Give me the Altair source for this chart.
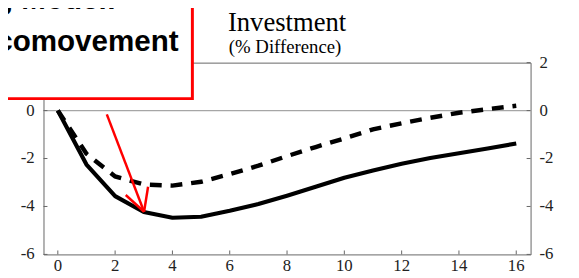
import altair as alt
import pandas as pd

# ---- data ----
quarters = list(range(17))
solid_vals = [0, -2.25, -3.57, -4.23, -4.47, -4.43, -4.18, -3.90, -3.55, -3.18,
              -2.80, -2.50, -2.22, -1.98, -1.78, -1.58, -1.37]
dashed_vals = [0, -1.80, -2.75, -3.08, -3.13, -2.97, -2.65, -2.30, -1.90, -1.52,
               -1.16, -0.78, -0.53, -0.30, -0.09, 0.06, 0.20]
x_tick_vals = [0, 2, 4, 6, 8, 10, 12, 14, 16]
x_tick_labels = ["0", "2", "4", "6", "8", "10", "12", "14", "16"]
y_tick_vals = [-6, -4, -2, 0, 2]
y_tick_labels = ["-6", "-4", "-2", "0", "2"]

# red arrow (shaft + two head strokes), in data units
arrow_x = [1.71, 3.01, 3.01]
arrow_y = [-0.16, -4.22, -4.22]
arrow_x2 = [3.01, 2.37, 3.15]
arrow_y2 = [-4.22, -3.52, -3.18]

title_text = "Investment"
subtitle_text = "(% Difference)"
box_line1 = "g Model:"
box_line2 = "comovement"

W, H = 494, 194.5
SERIF = "'Liberation Serif', 'Times New Roman', Times, serif"
SANS = "'Liberation Sans', Arial, Helvetica, sans-serif"

lines_df = pd.DataFrame({
    "t": quarters * 2,
    "v": solid_vals + dashed_vals,
    "s": ["solid"] * len(quarters) + ["dashed"] * len(quarters),
})
arrow_df = pd.DataFrame({"x": arrow_x, "y": arrow_y, "x2": arrow_x2, "y2": arrow_y2})
xt_df = pd.DataFrame({"t": x_tick_vals, "lab": x_tick_labels})
yt_df = pd.DataFrame({"v": y_tick_vals, "lab": y_tick_labels})
yt_left_df = yt_df[yt_df["v"] < 2]

xs = alt.Scale(domain=[-0.5, 16.5], nice=False, zero=False)
ys = alt.Scale(domain=[-6, 2], nice=False, zero=False)

X = lambda f: alt.X(f, scale=xs, axis=None)
Y = lambda f: alt.Y(f, scale=ys, axis=None)

zero_rule = alt.Chart(pd.DataFrame({"v": [0]})).mark_rule(
    color="#a6a6a6", strokeWidth=1.3
).encode(y=Y("v:Q"))

solid = alt.Chart(lines_df).transform_filter(alt.datum.s == "solid").mark_line(
    color="black", strokeWidth=4.2, strokeJoin="round"
).encode(x=X("t:Q"), y=Y("v:Q"))

dashed = alt.Chart(lines_df).transform_filter(alt.datum.s == "dashed").mark_line(
    color="black", strokeWidth=4.5, strokeDash=[12, 9]
).encode(x=X("t:Q"), y=Y("v:Q"))

xticks = alt.Chart(xt_df).mark_rule(color="#666", strokeWidth=1).encode(
    x=X("t:Q"), y=alt.value(H), y2=alt.value(H - 4),
)
lticks = alt.Chart(yt_df).mark_rule(color="#666", strokeWidth=1).encode(
    y=Y("v:Q"), x=alt.value(0), x2=alt.value(4),
)
rticks = alt.Chart(yt_df).mark_rule(color="#666", strokeWidth=1).encode(
    y=Y("v:Q"), x=alt.value(W), x2=alt.value(W - 4),
)

label_style = dict(font=SERIF, fontSize=17, color="#222")
xlabels = alt.Chart(xt_df).mark_text(align="center", baseline="top", **label_style).encode(
    x=X("t:Q"), y=alt.value(H + 3.5), text="lab:N",
)
llabels = alt.Chart(yt_left_df).mark_text(align="right", baseline="middle", **label_style).encode(
    y=Y("v:Q"), x=alt.value(-9), text="lab:N",
)
rlabels = alt.Chart(yt_df).mark_text(align="left", baseline="middle", **label_style).encode(
    y=Y("v:Q"), x=alt.value(W + 9), text="lab:N",
)

arrow = alt.Chart(arrow_df).mark_rule(color="#ff0000", strokeWidth=2.5).encode(
    x=X("x:Q"), x2="x2:Q", y=Y("y:Q"), y2="y2:Q",
)

box = alt.Chart(pd.DataFrame({"a": [0]})).mark_rect(
    fill="white", stroke="#ff0000", strokeWidth=3
).encode(x=alt.value(-60), x2=alt.value(151), y=alt.value(-80), y2=alt.value(36.5))

box_style = dict(font=SANS, fontSize=30, fontWeight="bold", align="right",
                 baseline="alphabetic", color="black")
box_t1 = alt.Chart(pd.DataFrame({"a": [box_line1]})).mark_text(**box_style).encode(
    text="a:N", x=alt.value(74), y=alt.value(-54.2))
box_t2 = alt.Chart(pd.DataFrame({"a": [box_line2]})).mark_text(**box_style).encode(
    text="a:N", x=alt.value(137), y=alt.value(-12.2))

title = alt.Chart(pd.DataFrame({"a": [title_text]})).mark_text(
    font=SERIF, fontSize=27, align="center", baseline="alphabetic", color="black"
).encode(text="a:N", x=alt.value(247), y=alt.value(-32.3))

subtitle = alt.Chart(pd.DataFrame({"a": [subtitle_text]})).mark_text(
    font=SERIF, fontSize=19, align="center", baseline="alphabetic", color="black"
).encode(text="a:N", x=alt.value(245), y=alt.value(-9.8))

chart = alt.layer(
    zero_rule, xticks, lticks, rticks, xlabels, llabels, rlabels,
    solid, dashed, arrow, box, box_t1, box_t2, title, subtitle
).properties(
    width=W, height=H,
    background="white",
    autosize=alt.AutoSizeParams(type="none"),
    padding={"left": 36, "top": 53.5, "right": 41, "bottom": 22},
).configure_view(stroke="#666", strokeWidth=1)

chart.save("out.html", embed_options={"renderer": "svg", "actions": False})
